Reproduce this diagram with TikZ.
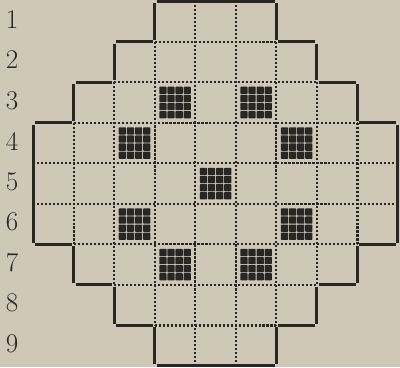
\documentclass[tikz,border=0pt]{standalone}
\usetikzlibrary{calc}
\definecolor{paper}{RGB}{208,200,182}
\definecolor{ink}{RGB}{40,38,36}
\tikzset{
  edge/.style={ink, line width=2.1pt, shorten <=1.3pt, shorten >=1.3pt},
  gridline/.style={ink, line width=1.5pt, dash pattern=on 1.5pt off 1.3pt},
  pip/.style={fill=ink, rounded corners=0.5pt},
  rowlabel/.style={ink, font=\fontsize{19}{22}\selectfont}
}
% one filled cell: 4x4 small squares, column #1, row #2
\newcommand{\filet}[2]{%
  \foreach \i in {0,...,3}{\foreach \j in {0,...,3}{
    \fill[pip] ({#1+0.11+\i*0.2},{-#2+0.11+\j*0.2}) rectangle +(0.18,0.18);}}}

\begin{document}
\begin{tikzpicture}[>=stealth, scale=1.0]
    \fill[paper] (-0.82,-9.03) rectangle (9.05,0.03);
    \useasboundingbox (-0.82,-9.03) rectangle (9.05,0.03);
    % row numbers
    \node[rowlabel] (n1) at (-0.52,-0.45) {1}; \node[rowlabel] (n2) at (-0.52,-1.45) {2};
    \node[rowlabel] (n3) at (-0.52,-2.45) {3}; \node[rowlabel] (n4) at (-0.52,-3.45) {4};
    \node[rowlabel] (n5) at (-0.52,-4.45) {5}; \node[rowlabel] (n6) at (-0.52,-5.45) {6};
    \node[rowlabel] (n7) at (-0.52,-6.45) {7}; \node[rowlabel] (n8) at (-0.52,-7.45) {8};
    \node[rowlabel] (n9) at (-0.52,-8.45) {9};
    % dotted inner grid
    \draw[gridline] (1,-3) -- (1,-6); \draw[gridline] (8,-3) -- (8,-6);
    \draw[gridline] (2,-2) -- (2,-7); \draw[gridline] (7,-2) -- (7,-7);
    \draw[gridline] (3,-1) -- (3,-8); \draw[gridline] (6,-1) -- (6,-8);
    \draw[gridline] (4,0) -- (4,-9);  \draw[gridline] (5,0) -- (5,-9);
    \draw[gridline] (3,-1) -- (6,-1); \draw[gridline] (3,-8) -- (6,-8);
    \draw[gridline] (2,-2) -- (7,-2); \draw[gridline] (2,-7) -- (7,-7);
    \draw[gridline] (1,-3) -- (8,-3); \draw[gridline] (1,-6) -- (8,-6);
    \draw[gridline] (0,-4) -- (9,-4); \draw[gridline] (0,-5) -- (9,-5);
    % solid outline, top and bottom
    \draw[edge] (3,0) -- (6,0);   \draw[edge] (3,-9) -- (6,-9);
    % left steps
    \draw[edge] (3,0) -- (3,-1);  \draw[edge] (2,-1) -- (3,-1);
    \draw[edge] (2,-1) -- (2,-2); \draw[edge] (1,-2) -- (2,-2);
    \draw[edge] (1,-2) -- (1,-3); \draw[edge] (0,-3) -- (1,-3);
    \draw[edge] (0,-3) -- (0,-6); \draw[edge] (0,-6) -- (1,-6);
    \draw[edge] (1,-6) -- (1,-7); \draw[edge] (1,-7) -- (2,-7);
    \draw[edge] (2,-7) -- (2,-8); \draw[edge] (2,-8) -- (3,-8);
    \draw[edge] (3,-8) -- (3,-9);
    % right steps
    \draw[edge] (6,0) -- (6,-1);  \draw[edge] (6,-1) -- (7,-1);
    \draw[edge] (7,-1) -- (7,-2); \draw[edge] (7,-2) -- (8,-2);
    \draw[edge] (8,-2) -- (8,-3); \draw[edge] (8,-3) -- (9,-3);
    \draw[edge] (9,-3) -- (9,-6); \draw[edge] (8,-6) -- (9,-6);
    \draw[edge] (8,-6) -- (8,-7); \draw[edge] (7,-7) -- (8,-7);
    \draw[edge] (7,-7) -- (7,-8); \draw[edge] (6,-8) -- (7,-8);
    \draw[edge] (6,-8) -- (6,-9);
    % filled cells
    \filet{3}{3} \filet{5}{3}
    \filet{2}{4} \filet{6}{4}
    \filet{4}{5}
    \filet{2}{6} \filet{6}{6}
    \filet{3}{7} \filet{5}{7}
\end{tikzpicture}
\end{document}
